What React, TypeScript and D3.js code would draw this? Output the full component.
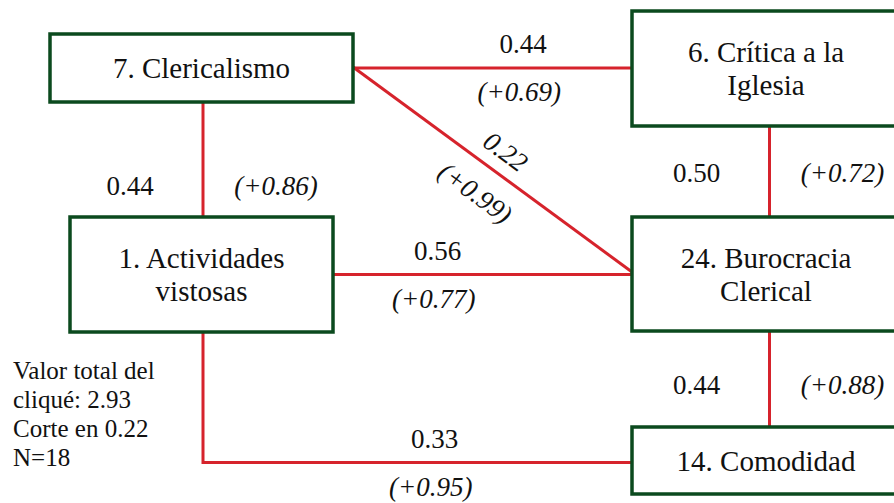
import React from "react";
import * as d3 from "d3";

// ---- data ----
const nodeIds = ["n7", "n6", "n1", "n24", "n14"];
const nodeLabels = [
  ["7. Clericalismo"],
  ["6. Crítica a la", "Iglesia"],
  ["1. Actividades", "vistosas"],
  ["24. Burocracia", "Clerical"],
  ["14. Comodidad"],
];
const edgeSources = ["n7", "n7", "n7", "n6", "n1", "n1", "n24"];
const edgeTargets = ["n6", "n1", "n24", "n24", "n24", "n14", "n14"];
const edgeValues = ["0.44", "0.44", "0.22", "0.50", "0.56", "0.33", "0.44"];
const edgeCumulative = ["(+0.69)", "(+0.86)", "(+0.99)", "(+0.72)", "(+0.77)", "(+0.95)", "(+0.88)"];
const noteLines = ["Valor total del", "cliqué: 2.93", "Corte en 0.22", "N=18"];

// ---- layout ----
const W = 894;
const H = 503;
const boxes: Record<string, { x: number; y: number; w: number; h: number }> = {
  n7: { x: 50, y: 34, w: 303, h: 68 },
  n6: { x: 632, y: 11, w: 272, h: 115 },
  n1: { x: 70, y: 217, w: 263, h: 115 },
  n24: { x: 632, y: 217, w: 272, h: 114 },
  n14: { x: 632, y: 427, w: 272, h: 67 },
};
// label placement per edge: [fraction along segment, baseline offset of first label]
const labelPlace = [
  [0.61, 0],
  [0.5, 35],
  [0.5, 0],
  [0.5, 10],
  [0.35, 0],
  [0.54, 0],
  [0.5, 15],
];

const RED = "#d6232c";
const GREEN = "#0b4a1e";
const FONT = "Liberation Serif";

type Pt = [number, number];

function edgeGeometry(s: string, t: string) {
  const a = boxes[s];
  const b = boxes[t];
  const acx = a.x + a.w / 2;
  const acy = a.y + a.h / 2;
  const bcx = b.x + b.w / 2;
  const bcy = b.y + b.h / 2;
  if (Math.abs(acx - bcx) < 5) {
    const x = acx + 1.5;
    const pts: Pt[] = [
      [x, a.y + a.h],
      [x, b.y],
    ];
    return { kind: "v", pts };
  }
  if (Math.abs(acy - bcy) < 5) {
    const pts: Pt[] = [
      [a.x + a.w, acy],
      [b.x, acy],
    ];
    return { kind: "h", pts };
  }
  if (t === "n14") {
    const x = acx + 1.5;
    const pts: Pt[] = [
      [x, a.y + a.h],
      [x, bcy + 2],
      [b.x, bcy + 2],
    ];
    return { kind: "elbow", pts };
  }
  const pts: Pt[] = [
    [a.x + a.w, acy - 1],
    [b.x, b.y + 55],
  ];
  return { kind: "d", pts };
}

const lineGen = d3
  .line<Pt>()
  .x((d) => d[0])
  .y((d) => d[1]);

type Sel = d3.Selection<SVGGElement, unknown, null, undefined>;

function addText(
  g: Sel,
  x: number,
  y: number,
  txt: string,
  size: number,
  anchor: string,
  italic = false
) {
  g.append("text")
    .attr("x", x)
    .attr("y", y)
    .attr("font-size", size)
    .attr("text-anchor", anchor)
    .attr("font-family", FONT)
    .attr("font-style", italic ? "italic" : "normal")
    .attr("fill", "#111")
    .style("font-family", FONT)
    .text(txt);
}

export default function App() {
  const ref = React.useRef<SVGSVGElement>(null);

  React.useEffect(() => {
    document.body.style.margin = "0";
    if (!ref.current) return;
    const svg = d3.select(ref.current);
    svg.selectAll("*").remove();
    svg.append("rect").attr("width", W).attr("height", H).attr("fill", "#fff");
    const root = svg.append("g") as unknown as Sel;

    const edges = edgeSources.map((s, i) => ({
      s,
      t: edgeTargets[i],
      v: edgeValues[i],
      c: edgeCumulative[i],
      g: edgeGeometry(s, edgeTargets[i]),
    }));

    // edges
    root
      .selectAll("path.edge")
      .data(edges)
      .join("path")
      .attr("class", "edge")
      .attr("d", (e) => lineGen(e.g.pts) || "")
      .attr("fill", "none")
      .attr("stroke", RED)
      .attr("stroke-width", 3);

    // nodes
    nodeIds.forEach((id, i) => {
      const b = boxes[id];
      const lines = nodeLabels[i];
      const ng = root.append("g") as unknown as Sel;
      ng.append("rect")
        .attr("x", b.x)
        .attr("y", b.y)
        .attr("width", b.w)
        .attr("height", b.h)
        .attr("fill", "#fff")
        .attr("stroke", GREEN)
        .attr("stroke-width", 3.5);
      const cx = id === "n6" || id === "n24" || id === "n14" ? b.x + 134 : b.x + b.w / 2;
      const cy = b.y + b.h / 2;
      const lh = 33;
      const y0 = cy - ((lines.length - 1) * lh) / 2 + 10;
      lines.forEach((ln, j) => addText(ng, cx, y0 + j * lh, ln, 29, "middle"));
    });

    // edge labels
    edges.forEach((e, i) => {
      const p = e.g.pts;
      const [frac, dy] = labelPlace[i];
      if (e.g.kind === "v") {
        const x = p[0][0];
        const my = p[0][1] + (p[1][1] - p[0][1]) * frac;
        addText(root, x - 73, my + dy, e.v, 27, "middle");
        addText(root, x + 73, my + dy, e.c, 27, "middle", true);
      } else if (e.g.kind === "h" || e.g.kind === "elbow") {
        const a = p[p.length - 2];
        const b = p[p.length - 1];
        const y = b[1];
        const cx = a[0] + (b[0] - a[0]) * frac;
        addText(root, cx, y - 15 + dy, e.v, 27, "middle");
        addText(root, cx - 4, y + 33 + dy, e.c, 27, "middle", true);
      } else {
        const [a, b] = p;
        const ang = (Math.atan2(b[1] - a[1], b[0] - a[0]) * 180) / Math.PI;
        const len = Math.hypot(b[0] - a[0], b[1] - a[1]);
        const dg = root.append("g").attr("transform", `translate(${a[0]},${a[1]}) rotate(${ang})`) as unknown as Sel;
        addText(dg, len * frac, -13, e.v, 27, "middle", true);
        addText(dg, len * frac, 38, e.c, 27, "middle", true);
      }
    });

    // note
    noteLines.forEach((t, i) => addText(root, 13, 379 + i * 29, t, 25, "start"));
  }, []);

  return (
    <svg
      ref={ref}
      width={W}
      height={H}
      viewBox={`0 0 ${W} ${H}`}
      style={{ display: "block", background: "#fff", position: "absolute", left: 0, top: 0 }}
    />
  );
}
